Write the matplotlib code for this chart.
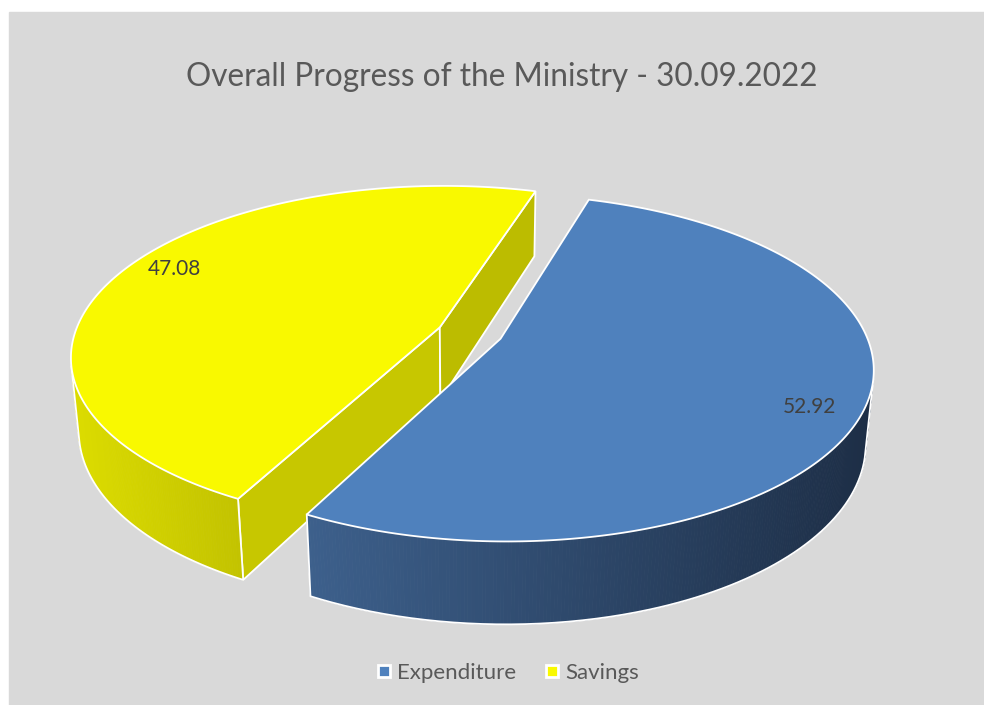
import numpy as np
import matplotlib.pyplot as plt
from matplotlib.patches import Polygon, Rectangle
from matplotlib.lines import Line2D
from matplotlib.colors import to_rgb

# data
categories = ['Expenditure', 'Savings']
values = [52.92, 47.08]
value_labels = ['52.92', '47.08']
title = 'Overall Progress of the Ministry - 30.09.2022'

# colours
top_colors = ['#4F81BD', '#F9F900']
wall_left = ['#3D608C', '#DCDC00']
wall_right = ['#1D2E46', '#C2C200']
cut_shade = [0.80, 0.755]   # face at first edge / face at second edge

# 3-D view (pixel units, y down)
W, H = 984, 705
cx, cy = 470, 333
elev = np.radians(27.2)
dist = 5.33
focal = 1945
thick = 0.229
explode = 0.09
start = 73.0
cam = np.array([0, -dist * np.cos(elev), dist * np.sin(elev)])


def project(x, y, z):
    depth = dist + y * np.cos(elev) - z * np.sin(elev)
    u = cx + focal * x / depth
    v = cy - focal * (y * np.sin(elev) + z * np.cos(elev)) / depth
    return u, v


def visible(p, n):
    return np.dot(n, cam - p) > 0


fig = plt.figure(figsize=(W / 100, H / 100), dpi=100)
fig.patch.set_facecolor('white')
ax = fig.add_axes([0, 0, 1, 1])
ax.set_xlim(0, W)
ax.set_ylim(H, 0)
ax.axis('off')
ax.add_patch(Rectangle((9, 12), W - 9, H - 12, color='#D9D9D9', zorder=0))

# slice angles, clockwise from start
total = sum(values)
edges = [start]
for val in values:
    edges.append(edges[-1] - 360 * val / total)

slices = []
for i in range(len(values)):
    a0, a1 = edges[i], edges[i + 1]
    mid = np.radians((a0 + a1) / 2)
    ox, oy = explode * np.cos(mid), explode * np.sin(mid)
    slices.append((i, a0, a1, ox, oy, np.sin(mid)))

# back slices first
slices.sort(key=lambda s: -s[5])

for i, a0, a1, ox, oy, _ in slices:
    top = np.array(to_rgb(top_colors[i]))
    th = np.radians(np.linspace(a0, a1, 400))
    xs = ox + np.cos(th)
    ys = oy + np.sin(th)

    # radial cut faces
    for k, a in enumerate([a0, a1]):
        ar = np.radians(a)
        na = ar + np.pi / 2 if k == 0 else ar - np.pi / 2
        n = np.array([np.cos(na), np.sin(na), 0])
        p = np.array([ox + 0.5 * np.cos(ar), oy + 0.5 * np.sin(ar), -thick / 2])
        if not visible(p, n):
            continue
        ex, ey = ox + np.cos(ar), oy + np.sin(ar)
        pts = [project(ox, oy, 0), project(ex, ey, 0),
               project(ex, ey, -thick), project(ox, oy, -thick)]
        ax.add_patch(Polygon(pts, closed=True, facecolor=top * cut_shade[k],
                             edgecolor='white', lw=1.3, zorder=2))

    # outer wall, only the part facing the camera
    vis = np.array([visible(np.array([x, y, -thick / 2]),
                            np.array([np.cos(t), np.sin(t), 0]))
                    for x, y, t in zip(xs, ys, th)])
    idx = np.where(vis)[0]
    if len(idx) > 1:
        runs = np.split(idx, np.where(np.diff(idx) > 1)[0] + 1)
        for run in runs:
            tu, tv = project(xs[run], ys[run], 0)
            bu, bv = project(xs[run], ys[run], -thick)
            umin, umax = min(tu.min(), bu.min()), max(tu.max(), bu.max())
            cl = np.array(to_rgb(wall_left[i]))
            cr = np.array(to_rgb(wall_right[i]))
            for j in range(len(run) - 1):
                t = ((tu[j] + tu[j + 1]) / 2 - umin) / (umax - umin)
                col = cl + (cr - cl) * t
                quad = [(tu[j], tv[j]), (tu[j + 1], tv[j + 1]),
                        (bu[j + 1], bv[j + 1]), (bu[j], bv[j])]
                ax.add_patch(Polygon(quad, closed=True, facecolor=col,
                                     edgecolor=col, lw=0.6, zorder=2))
            ax.plot([tu[0]] + list(bu) + [tu[-1]],
                    [tv[0]] + list(bv) + [tv[-1]],
                    color='white', lw=1.3, zorder=3)

    # top face
    pu, pv = project(np.r_[ox, xs], np.r_[oy, ys], 0)
    ax.add_patch(Polygon(np.c_[pu, pv], closed=True, facecolor=top,
                         edgecolor='white', lw=1.3, zorder=4))

    # value label
    lab = np.radians((a0 + a1) / 2 - 3.5)
    lu, lv = project(ox + 0.87 * np.cos(lab), oy + 0.87 * np.sin(lab), 0)
    ax.text(lu, lv, value_labels[i], ha='center', va='center', fontsize=15,
            color='#404040', family='Lato', zorder=5)

ax.text(502, 77, title, ha='center', va='center', fontsize=22.7,
        color='#595959', family='Lato')

handles = [Line2D([], [], marker='s', linestyle='none', markersize=8,
                  markerfacecolor=c, markeredgecolor='white', markeredgewidth=2)
           for c in top_colors]
leg = fig.legend(handles, categories, loc='center', ncol=2, frameon=False,
                 bbox_to_anchor=(508 / W, 1 - 673 / H), handlelength=0.6,
                 handletextpad=0.3, columnspacing=1.3,
                 prop={'family': 'Lato', 'size': 16})
for t in leg.get_texts():
    t.set_color('#595959')

fig.savefig('out.png', dpi=100, facecolor=fig.get_facecolor())
